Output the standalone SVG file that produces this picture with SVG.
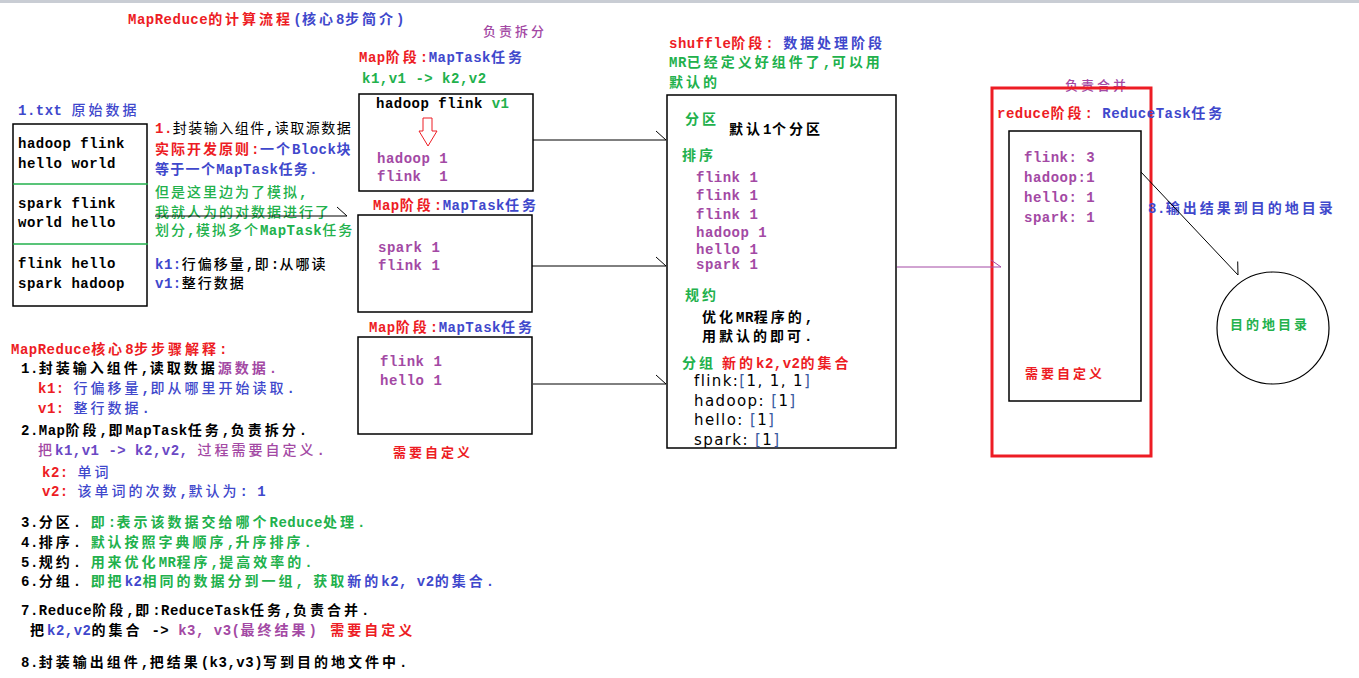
<svg xmlns="http://www.w3.org/2000/svg" width="1359" height="678" viewBox="0 0 1359 678">
<style>
text{font-family:"Noto Sans CJK SC",sans-serif;font-size:14px;letter-spacing:3px;fill:#000;font-weight:500}
.e{font-family:"Liberation Mono","Noto Sans CJK SC",monospace;font-weight:bold;letter-spacing:0.5px}
.bd{font-weight:bold}
.s{font-size:13px}
.n{letter-spacing:2px}
.r{fill:#ed1c24}.b{fill:#3f48cc}.p{fill:#a349a4}.g{fill:#22b14c}.v{fill:#6a48c4}.k{fill:#000}
.box{fill:none;stroke:#000;stroke-width:1.5}
.ln{fill:none;stroke:#000;stroke-width:1}
.arr{font-family:"DejaVu Sans",sans-serif;font-size:15px;letter-spacing:1.4px;font-weight:normal}
.br{fill:#3a5aa0}
</style>
<defs>
<marker id="barb" markerWidth="14" markerHeight="14" refX="11" refY="10" orient="auto" markerUnits="userSpaceOnUse"><path d="M1,1 L11,10" stroke="#000" stroke-width="1" fill="none"/></marker>
<marker id="barbp" markerWidth="14" markerHeight="14" refX="11" refY="10" orient="auto" markerUnits="userSpaceOnUse"><path d="M1,3 L11,10" stroke="#a349a4" stroke-width="1" fill="none"/></marker>
</defs>
<rect x="0" y="0" width="1359" height="678" fill="#fff"/>
<rect x="0" y="0" width="1359" height="3" fill="#c9cdd4"/>

<g id="title">
<text x="128" y="24" class="bd"><tspan class="e r">MapReduce</tspan><tspan class="r">的计算流程</tspan><tspan class="e b">(</tspan><tspan class="b">核心</tspan><tspan class="e b">8</tspan><tspan class="b">步简介</tspan><tspan class="e b">)</tspan></text>
<text x="483" y="36" class="p s">负责拆分</text>
</g>

<g id="source">
<text x="18" y="115" class="b"><tspan class="e">1.txt </tspan>原始数据</text>
<rect x="13" y="124" width="134" height="182" class="box"/>
<line x1="13" y1="184" x2="148" y2="184" stroke="#22b14c" stroke-width="1.5"/>
<line x1="13" y1="244" x2="148" y2="244" stroke="#22b14c" stroke-width="1.5"/>
<text x="18" y="148" class="e">hadoop flink</text>
<text x="18" y="168" class="e">hello world</text>
<text x="18" y="208" class="e">spark flink</text>
<text x="18" y="227" class="e">world hello</text>
<text x="18" y="268" class="e">flink hello</text>
<text x="18" y="288" class="e">spark hadoop</text>
</g>

<g id="input-notes">
<text x="155" y="133" class="n" style="letter-spacing:1.5px;font-weight:normal"><tspan class="e r">1.</tspan>封装输入组件<tspan class="e">,</tspan>读取源数据</text>
<text x="155" y="154" class="n bd"><tspan class="r">实际开发原则</tspan><tspan class="e r">:</tspan><tspan class="b">一个</tspan><tspan class="e b">Block</tspan><tspan class="b">块</tspan></text>
<text x="155" y="174" class="n bd b" style="letter-spacing:1.3px">等于一个<tspan class="e">MapTask</tspan>任务<tspan class="e">.</tspan></text>
<text x="155" y="197" class="n g">但是这里边为了模拟<tspan class="e">,</tspan></text>
<text x="155" y="217" class="n g">我就人为的对数据进行了</text>
<text x="155" y="235" class="n g">划分<tspan class="e">,</tspan>模拟多个<tspan class="e">MapTask</tspan>任务</text>
<text x="155" y="269" class="n"><tspan class="e b">k1:</tspan>行偏移量<tspan class="e">,</tspan>即<tspan class="e">:</tspan>从哪读</text>
<text x="155" y="288" class="n"><tspan class="e b">v1:</tspan>整行数据</text>
</g>

<g id="map1">
<text x="359" y="62" class="bd"><tspan class="e r">Map</tspan><tspan class="r">阶段</tspan><tspan class="e r">:</tspan><tspan class="e b">MapTask</tspan><tspan class="b">任务</tspan></text>
<text x="362" y="83" class="e g">k1,v1 -&gt; k2,v2</text>
<rect x="359" y="94" width="174" height="97" class="box"/>
<text x="376" y="108" class="e">hadoop flink <tspan class="g">v1</tspan></text>
<path d="M423,118 H432 V131 H437 L428,146 L419,131 H423 Z" fill="#fff" stroke="#ed1c24" stroke-width="1"/>
<text x="377" y="163" class="e p">hadoop 1</text>
<text x="377" y="181" class="e p" xml:space="preserve">flink  1</text>
</g>

<g id="map2">
<text x="373" y="210" class="bd"><tspan class="e r">Map</tspan><tspan class="r">阶段</tspan><tspan class="e r">:</tspan><tspan class="e b">MapTask</tspan><tspan class="b">任务</tspan></text>
<rect x="358" y="215" width="174" height="97" class="box"/>
<text x="378" y="252" class="e p">spark 1</text>
<text x="378" y="270" class="e p">flink 1</text>
</g>

<g id="map3">
<text x="369" y="332" class="bd"><tspan class="e r">Map</tspan><tspan class="r">阶段</tspan><tspan class="e r">:</tspan><tspan class="e b">MapTask</tspan><tspan class="b">任务</tspan></text>
<rect x="358" y="337" width="174" height="97" class="box"/>
<text x="380" y="366" class="e p">flink 1</text>
<text x="380" y="385" class="e p">hello 1</text>
<text x="393" y="457" class="r s bd">需要自定义</text>
</g>

<g id="shuffle">
<text x="669" y="48" class="bd"><tspan class="e r">shuffle</tspan><tspan class="r">阶段</tspan><tspan class="e r">: </tspan><tspan class="b">数据处理阶段</tspan></text>
<text x="669" y="67" class="g bd"><tspan class="e">MR</tspan>已经定义好组件了<tspan class="e">,</tspan>可以用</text>
<text x="669" y="87" class="g bd">默认的</text>
<rect x="667" y="95" width="229" height="353" class="box"/>
<text x="685" y="124" class="g bd">分区</text>
<text x="729" y="134" class="bd">默认<tspan class="e">1</tspan>个分区</text>
<text x="682" y="160" class="g bd">排序</text>
<text x="696" y="182" class="e p">flink 1</text>
<text x="696" y="200" class="e p">flink 1</text>
<text x="696" y="219" class="e p">flink 1</text>
<text x="696" y="237" class="e p">hadoop 1</text>
<text x="696" y="254" class="e p">hello 1</text>
<text x="696" y="269" class="e p">spark 1</text>
<text x="685" y="300" class="g bd">规约</text>
<text x="702" y="322" class="bd">优化<tspan class="e">MR</tspan>程序的<tspan class="e">,</tspan></text>
<text x="702" y="341" class="bd">用默认的即可<tspan class="e">.</tspan></text>
<text x="682" y="368"><tspan class="g bd">分组</tspan><tspan class="r bd" dx="6">新的</tspan><tspan class="e r">k2,v2</tspan><tspan class="r bd">的集合</tspan></text>
<text x="694" y="386" class="arr">flink:<tspan class="br">[</tspan>1, 1, 1<tspan class="br">]</tspan></text>
<text x="694" y="406" class="arr">hadoop: <tspan class="br">[</tspan>1<tspan class="br">]</tspan></text>
<text x="694" y="425" class="arr">hello: <tspan class="br">[</tspan>1<tspan class="br">]</tspan></text>
<text x="694" y="445" class="arr">spark: <tspan class="br">[</tspan>1<tspan class="br">]</tspan></text>
</g>

<g id="reduce">
<text x="1065" y="90" class="p s">负责合并</text>
<rect x="992" y="88" width="159" height="368" fill="none" stroke="#ed1c24" stroke-width="3"/>
<text x="997" y="118" class="bd"><tspan class="e r">reduce</tspan><tspan class="r">阶段</tspan><tspan class="e r">: </tspan><tspan class="e b">ReduceTask</tspan><tspan class="b">任务</tspan></text>
<rect x="1009" y="131" width="132" height="270" class="box"/>
<text x="1024" y="162" class="e p">flink: 3</text>
<text x="1024" y="182" class="e p">hadoop:1</text>
<text x="1024" y="202" class="e p">hello: 1</text>
<text x="1024" y="222" class="e p">spark: 1</text>
<text x="1025" y="378" class="r s bd">需要自定义</text>
</g>

<g id="output-note">
<text x="1148" y="213" class="b bd"><tspan class="e">8.</tspan>输出结果到目的地目录</text>
</g>

<g id="destination">
<circle cx="1273" cy="328" r="56" fill="none" stroke="#000" stroke-width="1.2"/>
<text x="1230" y="329" class="g s bd">目的地目录</text>
</g>

<g id="connectors">
<line x1="155" y1="216" x2="347" y2="216" class="ln" marker-end="url(#barb)"/>
<line x1="533" y1="140" x2="666" y2="140" class="ln" marker-end="url(#barb)"/>
<line x1="532" y1="266" x2="666" y2="266" class="ln" marker-end="url(#barb)"/>
<line x1="533" y1="384" x2="666" y2="384" class="ln" marker-end="url(#barb)"/>
<line x1="897" y1="267" x2="1001" y2="267" stroke="#a349a4" stroke-width="1" marker-end="url(#barbp)"/>
<line x1="1141" y1="172" x2="1238" y2="275" class="ln" marker-end="url(#barb)"/>
</g>

<g id="explanation">
<text x="11" y="354" class="r bd"><tspan class="e">MapReduce</tspan>核心<tspan class="e">8</tspan>步步骤解释<tspan class="e">:</tspan></text>
<text x="21" y="373" class="bd"><tspan class="e">1.</tspan>封装输入组件<tspan class="e">,</tspan>读取数据<tspan class="p">源数据</tspan><tspan class="e p">.</tspan></text>
<text x="38" y="393" class="b"><tspan class="e r">k1: </tspan>行偏移量<tspan class="e">,</tspan>即从哪里开始读取<tspan class="e">.</tspan></text>
<text x="38" y="413" class="b"><tspan class="e r">v1: </tspan>整行数据<tspan class="e">.</tspan></text>
<text x="21" y="435" class="bd"><tspan class="e">2.Map</tspan>阶段<tspan class="e">,</tspan>即<tspan class="e">MapTask</tspan>任务<tspan class="e">,</tspan>负责拆分<tspan class="e">.</tspan></text>
<text x="38" y="455" class="p">把<tspan class="e v">k1,v1 -&gt; k2,v2, </tspan>过程需要自定义<tspan class="e">.</tspan></text>
<text x="42" y="477" class="b"><tspan class="e r">k2: </tspan>单词</text>
<text x="42" y="496" class="b"><tspan class="e r">v2: </tspan>该单词的次数<tspan class="e">,</tspan>默认为<tspan class="e">: 1</tspan></text>
<text x="21" y="527" class="bd"><tspan class="e">3.</tspan>分区<tspan class="e">. </tspan><tspan class="g">即</tspan><tspan class="e g">:</tspan><tspan class="g">表示该数据交给哪个</tspan><tspan class="e g">Reduce</tspan><tspan class="g">处理</tspan><tspan class="e g">.</tspan></text>
<text x="21" y="547" class="bd"><tspan class="e">4.</tspan>排序<tspan class="e">. </tspan><tspan class="g">默认按照字典顺序</tspan><tspan class="e g">,</tspan><tspan class="g">升序排序</tspan><tspan class="e g">.</tspan></text>
<text x="21" y="567" class="bd"><tspan class="e">5.</tspan>规约<tspan class="e">. </tspan><tspan class="g">用来优化</tspan><tspan class="e g">MR</tspan><tspan class="g">程序</tspan><tspan class="e g">,</tspan><tspan class="g">提高效率的</tspan><tspan class="e g">.</tspan></text>
<text x="21" y="586" class="bd"><tspan class="e">6.</tspan>分组<tspan class="e">. </tspan><tspan class="g">即把</tspan><tspan class="e b">k2</tspan><tspan class="g">相同的数据分到一组</tspan><tspan class="e g">, </tspan><tspan class="g">获取</tspan><tspan class="b">新的</tspan><tspan class="e b">k2, v2</tspan><tspan class="b">的集合</tspan><tspan class="e b">.</tspan></text>
<text x="21" y="615" class="bd"><tspan class="e">7.Reduce</tspan>阶段<tspan class="e">,</tspan>即<tspan class="e">:ReduceTask</tspan>任务<tspan class="e">,</tspan>负责合并<tspan class="e">.</tspan></text>
<text x="30" y="635" class="bd">把<tspan class="e b">k2,v2</tspan>的集合<tspan class="e"> -&gt; </tspan><tspan class="e p">k3, v3(</tspan><tspan class="p">最终结果</tspan><tspan class="e p">)  </tspan><tspan class="r" dx="4">需要自定义</tspan></text>
<text x="21" y="667" class="bd"><tspan class="e">8.</tspan>封装输出组件<tspan class="e">,</tspan>把结果<tspan class="e">(k3,v3)</tspan>写到目的地文件中<tspan class="e">.</tspan></text>
</g>
</svg>
